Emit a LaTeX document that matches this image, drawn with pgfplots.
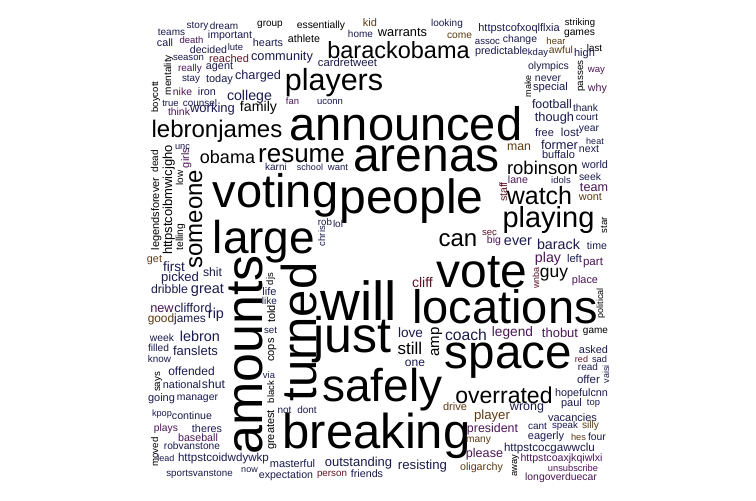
\documentclass[border=0pt]{standalone}
\usepackage{fontspec}
\setmainfont{Liberation Sans}
\usepackage{pgfplots}
\pgfplotsset{compat=1.18}
\definecolor{wc0}{HTML}{000000}
\definecolor{wc1}{HTML}{1A1A4E}
\definecolor{wc2}{HTML}{4B1656}
\definecolor{wc3}{HTML}{5C3A12}
\definecolor{wc4}{HTML}{5E1426}
% \W{x}{y}{size}{rotation}{colour}{word}
\newcommand{\W}[6]{\addplot[only marks, mark=none, forget plot,
  nodes near coords={#6},
  nodes near coords style={anchor=base, inner sep=0pt, outer sep=0pt,
    rotate=#4, text=wc#5, font=\fontsize{#3}{#3}\selectfont}]
  coordinates {(#1,#2)};}
\begin{document}
\begin{tikzpicture}
\begin{axis}[
  x=1pt, y=1pt,
  xmin=0, xmax=756, ymin=0, ymax=501,
  y dir=reverse,
  enlargelimits=false,
  axis line style={draw=none},
  ticks=none,
  clip=false,
]
\addplot[draw=none, mark=none, forget plot] coordinates {(0,0) (756,501)};
\W{171.5}{35}{10}{0}{1}{teams}
\W{197.5}{28}{10}{0}{1}{story}
\W{224}{29}{10}{0}{1}{dream}
\W{270}{26}{10}{0}{0}{group}
\W{321}{28}{10.3}{0}{0}{essentially}
\W{370}{26}{11}{0}{3}{kid}
\W{447}{26}{10}{0}{1}{looking}
\W{519}{31}{11}{0}{1}{httpstcofxoqlflxia}
\W{580}{25}{9.5}{0}{0}{striking}
\W{579.5}{35}{10.3}{0}{0}{games}
\W{165}{46}{10.7}{0}{1}{call}
\W{191.5}{43}{9.5}{0}{2}{death}
\W{230}{38}{10.6}{0}{1}{important}
\W{268}{46}{10.8}{0}{1}{hearts}
\W{304}{42}{10.7}{0}{0}{athlete}
\W{360.5}{37}{10}{0}{1}{home}
\W{402.5}{36}{12.8}{0}{0}{warrants}
\W{459.5}{38}{10.2}{0}{3}{come}
\W{487.5}{44}{9.6}{0}{1}{assoc}
\W{520}{42}{10.4}{0}{1}{change}
\W{556}{44}{9.5}{0}{3}{hear}
\W{594.5}{51}{9.8}{0}{0}{last}
\W{208.5}{53}{10.6}{0}{1}{decided}
\W{235.5}{50}{9.5}{0}{1}{lute}
\W{229}{62}{11}{0}{4}{reached}
\W{188.5}{60}{9.6}{0}{1}{season}
\W{282}{60}{12.8}{0}{1}{community}
\W{398.5}{58}{23.5}{0}{0}{barackobama}
\W{347.5}{66}{11.3}{0}{1}{cardretweet}
\W{501.5}{54}{10.8}{0}{1}{predictable}
\W{538}{55}{9.5}{0}{1}{kday}
\W{561}{53}{10.3}{0}{3}{awful}
\W{584.5}{56}{11}{0}{1}{high}
\W{171}{75}{10}{90}{0}{mentality}
\W{158}{97}{9.5}{90}{0}{boycott}
\W{190}{71}{10}{0}{2}{really}
\W{219.5}{69}{10.8}{0}{1}{agent}
\W{191}{81}{9.8}{0}{1}{stay}
\W{219.5}{82}{11}{0}{1}{today}
\W{258}{79}{12.7}{0}{1}{charged}
\W{182.5}{95}{10.4}{0}{2}{nike}
\W{207}{95}{10.8}{0}{1}{iron}
\W{249.5}{100}{14.2}{0}{1}{college}
\W{170.5}{106}{9.5}{0}{1}{true}
\W{200}{106}{9.9}{0}{1}{counsel}
\W{292.5}{104}{9.4}{0}{2}{fan}
\W{179}{115}{10.4}{0}{2}{think}
\W{212.5}{112}{13}{0}{1}{working}
\W{258.5}{111}{14.2}{0}{0}{family}
\W{334}{90}{30.5}{0}{0}{players}
\W{330}{104}{9.5}{0}{1}{uconn}
\W{217}{137}{24}{0}{0}{lebronjames}
\W{406}{140}{47}{0}{0}{announced}
\W{262}{355}{52}{90}{0}{amounts}
\W{316}{332}{49}{90}{0}{turned}
\W{275.5}{207}{47}{0}{0}{voting}
\W{264}{253}{46}{0}{0}{large}
\W{411.5}{213}{48}{0}{0}{people}
\W{426.5}{171}{48}{0}{0}{arenas}
\W{301.5}{162}{26}{0}{0}{resume}
\W{227.5}{163}{18}{0}{0}{obama}
\W{276}{170}{10}{0}{1}{karni}
\W{310}{170}{9}{0}{1}{school}
\W{338}{170}{9.5}{0}{1}{want}
\W{172}{200}{13}{90}{0}{httpstcoibmwicjgho}
\W{202}{219}{24}{90}{0}{someone}
\W{159}{214}{11}{90}{0}{legendsforever}
\W{158}{161}{10}{90}{0}{dead}
\W{189}{158}{11}{90}{2}{girls}
\W{182.5}{149}{9.3}{0}{1}{unc}
\W{183}{178}{10}{90}{0}{low}
\W{183}{237}{10.3}{90}{0}{telling}
\W{154.5}{262}{10.8}{0}{3}{get}
\W{174}{271}{13.6}{0}{1}{first}
\W{180}{281}{13.1}{0}{1}{picked}
\W{212.5}{276}{12.2}{0}{1}{shit}
\W{169.5}{293}{12.3}{0}{1}{dribble}
\W{207.5}{293}{14.5}{0}{1}{great}
\W{162}{312}{12.8}{0}{2}{new}
\W{193}{312}{12.8}{0}{1}{clifford}
\W{216}{318}{14.4}{0}{1}{rip}
\W{161}{322}{11.9}{0}{3}{good}
\W{190}{322}{11.9}{0}{1}{james}
\W{200}{341}{14.4}{0}{1}{lebron}
\W{162}{341}{10.3}{0}{1}{week}
\W{158.5}{351}{10.2}{0}{1}{filled}
\W{195.5}{355}{13}{0}{1}{fanslets}
\W{159.5}{362}{9.9}{0}{1}{know}
\W{191.5}{375}{12}{0}{1}{offended}
\W{160}{382}{9.7}{90}{0}{says}
\W{182}{388}{10.9}{0}{1}{national}
\W{213.5}{388}{12.2}{0}{1}{shut}
\W{161.5}{401}{11}{0}{1}{going}
\W{197.5}{400}{10.4}{0}{1}{manager}
\W{162}{416}{9.2}{0}{1}{kpop}
\W{192}{419}{10.6}{0}{1}{continue}
\W{166}{431}{10.3}{0}{2}{plays}
\W{207}{432}{10.8}{0}{1}{theres}
\W{198}{441}{10.7}{0}{2}{baseball}
\W{158}{452}{9.7}{90}{0}{moved}
\W{192}{449}{10.2}{0}{1}{robvanstone}
\W{166}{461}{9}{0}{1}{lead}
\W{223.5}{461}{11.6}{0}{1}{httpstcoidwdywkp}
\W{199.5}{476}{9.8}{0}{1}{sportsvanstone}
\W{249.5}{472}{9}{0}{1}{now}
\W{292.5}{467}{11}{0}{1}{masterful}
\W{286}{478}{10.6}{0}{1}{expectation}
\W{274}{350}{11}{90}{0}{cops}
\W{269}{378}{9.4}{0}{1}{via}
\W{274}{392}{9.5}{90}{0}{black}
\W{274}{430}{11}{90}{0}{greatest}
\W{284.5}{413}{10}{0}{1}{not}
\W{307}{413}{10}{0}{1}{dont}
\W{270.5}{333}{9.7}{0}{1}{set}
\W{275}{314}{11}{90}{0}{told}
\W{269.5}{304}{10}{0}{1}{like}
\W{269.5}{295}{11}{0}{1}{life}
\W{273}{279}{9.4}{90}{0}{djs}
\W{352.5}{352}{50}{0}{0}{just}
\W{358.5}{320}{55}{0}{0}{will}
\W{482}{287}{48}{0}{0}{vote}
\W{505}{323}{47}{0}{0}{locations}
\W{508.5}{368}{47.6}{0}{0}{space}
\W{382.5}{401}{46}{0}{0}{safely}
\W{376.5}{448}{49}{0}{0}{breaking}
\W{504}{403}{23}{0}{0}{overrated}
\W{358.5}{466}{13}{0}{1}{outstanding}
\W{422.5}{469}{13.2}{0}{1}{resisting}
\W{332}{476}{9.8}{0}{4}{person}
\W{367}{477}{10.7}{0}{1}{friends}
\W{410.5}{337}{13.6}{0}{1}{love}
\W{410}{354}{17}{0}{0}{still}
\W{415}{366}{12}{0}{1}{one}
\W{439}{342}{15}{90}{0}{amp}
\W{466}{340}{15.7}{0}{1}{coach}
\W{512.5}{336}{13.7}{0}{2}{legend}
\W{422.5}{287}{14}{0}{4}{cliff}
\W{539}{278}{9}{90}{4}{wnba}
\W{560}{337}{13}{0}{2}{thobut}
\W{595.5}{333}{10}{0}{0}{game}
\W{593.5}{353}{10.9}{0}{1}{asked}
\W{581.5}{362}{9}{0}{4}{red}
\W{599.5}{362}{9.3}{0}{1}{sad}
\W{588}{370}{10}{0}{1}{read}
\W{588.5}{383}{11.5}{0}{1}{offer}
\W{609}{374}{9}{90}{1}{vaisi}
\W{581.5}{396}{10.8}{0}{1}{hopefulcnn}
\W{571.5}{406}{11}{0}{1}{paul}
\W{593.5}{405}{9.4}{0}{1}{top}
\W{455}{410}{11}{0}{3}{drive}
\W{527}{410}{12.5}{0}{1}{wrong}
\W{492}{419}{13.2}{0}{3}{player}
\W{572.5}{421}{11}{0}{1}{vacancies}
\W{492.5}{432}{12.4}{0}{2}{president}
\W{537.5}{429}{10}{0}{1}{cant}
\W{565}{428}{9.7}{0}{1}{speak}
\W{590.5}{428}{10.2}{0}{3}{silly}
\W{546}{439}{11}{0}{1}{eagerly}
\W{578.5}{440}{9.3}{0}{3}{hes}
\W{597}{440}{10.4}{0}{1}{four}
\W{478.5}{442}{10.2}{0}{3}{many}
\W{549.5}{451}{11.6}{0}{1}{httpstcocgawwclu}
\W{484.5}{457}{12.6}{0}{2}{please}
\W{517}{466}{9.4}{90}{0}{away}
\W{561.5}{461}{10.6}{0}{2}{httpstcoaxjkqiwlxi}
\W{573}{471}{9.3}{0}{2}{unsubscribe}
\W{481.5}{470}{10.7}{0}{3}{oligarchy}
\W{561}{480}{10.4}{0}{2}{longoverduecar}
\W{603}{303}{9}{90}{0}{political}
\W{585}{283}{10.9}{0}{2}{place}
\W{554}{277}{17.4}{0}{0}{guy}
\W{548}{262}{14.2}{0}{2}{play}
\W{574.5}{262}{11.2}{0}{1}{left}
\W{593}{265}{11.6}{0}{2}{part}
\W{558.5}{249}{14.3}{0}{1}{barack}
\W{597}{249}{10.6}{0}{1}{time}
\W{518}{245}{14.4}{0}{1}{ever}
\W{494}{243}{10.5}{0}{2}{big}
\W{489.5}{235}{9.6}{0}{4}{sec}
\W{458}{246}{24}{0}{0}{can}
\W{548.5}{227}{29}{0}{0}{playing}
\W{607}{225}{9.6}{90}{0}{star}
\W{539.5}{204}{25}{0}{0}{watch}
\W{507}{192}{10.6}{90}{4}{staff}
\W{518}{183}{10.6}{0}{2}{lane}
\W{561}{183}{9.5}{0}{1}{idols}
\W{590}{180}{10.4}{0}{1}{seek}
\W{594}{191}{12.6}{0}{2}{team}
\W{590.5}{200}{10.9}{0}{3}{wont}
\W{542.5}{174}{18.5}{0}{0}{robinson}
\W{595}{168}{10.9}{0}{1}{world}
\W{519}{150}{12.3}{0}{3}{man}
\W{559.5}{149}{12.8}{0}{1}{former}
\W{558.5}{158}{11}{0}{1}{buffalo}
\W{589}{152}{10.6}{0}{1}{next}
\W{595}{144}{9}{0}{1}{heat}
\W{544.5}{136}{11}{0}{1}{free}
\W{570}{136}{11.6}{0}{1}{lost}
\W{589}{131}{10.3}{0}{1}{year}
\W{554.5}{121}{12.8}{0}{1}{though}
\W{587}{120}{9.9}{0}{1}{court}
\W{552}{108}{12.4}{0}{1}{football}
\W{585.5}{111}{10.2}{0}{1}{thank}
\W{548.5}{69}{10.5}{0}{1}{olympics}
\W{548}{81}{10.4}{0}{1}{never}
\W{550.5}{90}{11.2}{0}{1}{special}
\W{531}{86}{9}{90}{0}{make}
\W{583}{76}{9.8}{90}{0}{passes}
\W{596.5}{72}{9.6}{0}{2}{way}
\W{597.5}{91}{10.7}{0}{2}{why}
\W{325}{236}{9.5}{90}{1}{chris}
\W{325}{225}{9.7}{0}{1}{rob}
\W{338}{227}{10}{0}{1}{lol}
\end{axis}
\end{tikzpicture}
\end{document}
